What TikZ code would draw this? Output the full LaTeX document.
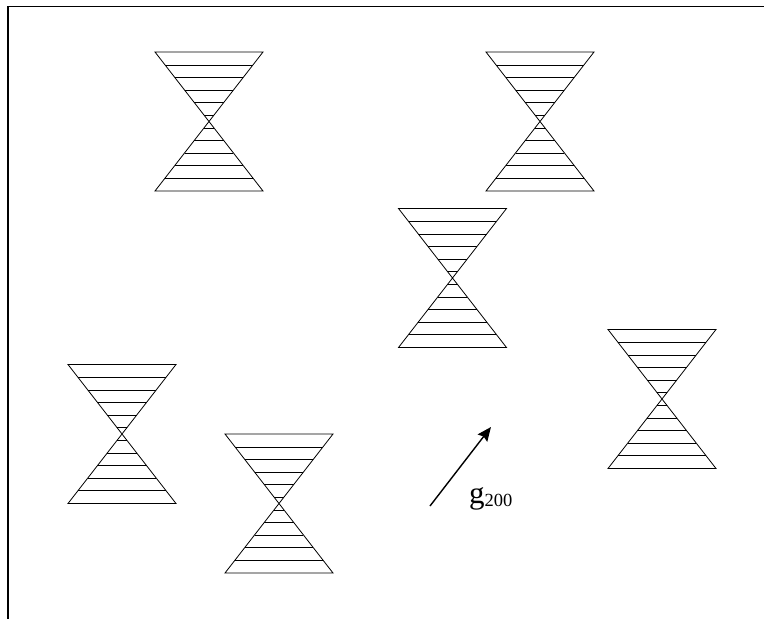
\documentclass[tikz,border=0pt]{standalone}
\usepackage{fontspec}
\setmainfont{Liberation Serif}
\usepackage{tikz}
\usetikzlibrary{arrows.meta}

% one double cone with its horizontal hatching, centred on the pic origin
\tikzset{
  cone/.pic={
    \draw[coneline] (-54,-69.5) -- (54,69.5) -- (-54,69.5) -- (54,-69.5) -- cycle;
    \foreach \d in {6.5,19,31.5,44,56.5}{
      \draw[coneline] ({-54*\d/69.5},-\d) -- ({54*\d/69.5},-\d);
      \draw[coneline] ({-54*\d/69.5},\d) -- ({54*\d/69.5},\d);
    }
  }
}

\begin{document}
\begin{tikzpicture}[
  x=1pt, y=-1pt,
  coneline/.style={line width=0.8pt, black},
  frame/.style={line width=1.8pt, black},
  arr/.style={-{Stealth[length=14pt, width=12pt, inset=2pt]}, line width=1.4pt},
  lbl/.style={inner sep=0pt, anchor=base west}
]
  \useasboundingbox (0,0) rectangle (764,619);

  % --- frame (left and top edges only) ---
  \draw[frame] (8,619) -- (8,6.5) -- (764,6.5);

  % --- cones ---
  \pic at (209,121.5) {cone};
  \pic at (540,121.5) {cone};
  \pic at (452.5,278) {cone};
  \pic at (662,399) {cone};
  \pic at (122,434) {cone};
  \pic at (279,503.5) {cone};

  % --- reciprocal vector ---
  \coordinate (gtail) at (430,506);
  \coordinate (ghead) at (491,427);
  \draw[arr] (gtail) -- (ghead);
  \node[lbl] (glabel) at (469,503)
    {{\fontsize{31}{31}\selectfont g}{\fontsize{18.5}{18.5}\selectfont\raisebox{-3pt}{200}}};

\end{tikzpicture}
\end{document}
